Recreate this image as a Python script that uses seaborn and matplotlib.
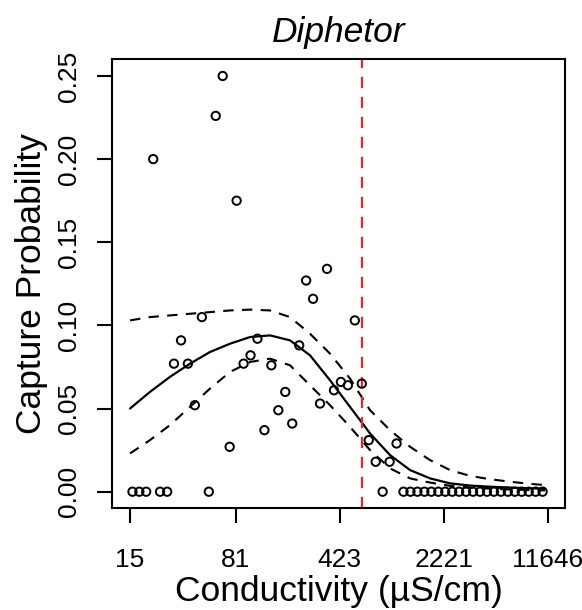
import pandas as pd
import seaborn as sns
import matplotlib
matplotlib.use("Agg")
import matplotlib.pyplot as plt
from matplotlib.ticker import FixedLocator, FixedFormatter, NullLocator

# ------------------------------------------------------------
# DONNEES
# ------------------------------------------------------------
conductivity = [15.6, 17.4, 19.4, 21.7, 24.2, 27.1, 30.2, 33.8, 37.7, 42.1,
                47.1, 52.6, 58.7, 65.6, 73.3, 81.9, 91.5, 102.2, 114.1, 127.5,
                142.4, 159.1, 177.7, 198.5, 221.8, 247.7, 276.7, 309.1, 345.3, 385.8,
                430.9, 481.4, 537.8, 600.8, 671.1, 749.7, 837.5, 935.6, 1045, 1167,
                1304, 1457, 1628, 1818, 2031, 2269, 2535, 2831, 3163, 3533,
                3947, 4409, 4925, 5502, 6146, 6866, 7670, 8568, 9571, 10692]
capture = [0, 0, 0, 0.200, 0, 0, 0.077, 0.091, 0.077, 0.052,
           0.105, 0, 0.226, 0.250, 0.027, 0.175, 0.077, 0.082, 0.092, 0.037,
           0.076, 0.049, 0.060, 0.041, 0.088, 0.127, 0.116, 0.053, 0.134, 0.061,
           0.066, 0.064, 0.103, 0.065, 0.031, 0.018, 0, 0.018, 0.029, 0,
           0, 0, 0, 0, 0, 0, 0, 0, 0, 0,
           0, 0, 0, 0, 0, 0, 0, 0, 0, 0]

curve_cond = [15.0, 20.6, 28.3, 39.0, 53.6, 73.7, 101.4, 139.4, 191.7, 263.5, 362.4,
              498.3, 685.4, 942.4, 1296, 1782, 2450, 3369, 4633, 6370, 8761, 11120]
fit = [0.050, 0.060, 0.069, 0.077, 0.084, 0.089, 0.093, 0.094, 0.091, 0.082, 0.067,
       0.051, 0.035, 0.022, 0.013, 0.0080, 0.0050, 0.0037, 0.0030, 0.0025, 0.0020, 0.0018]
upper = [0.103, 0.105, 0.106, 0.107, 0.108, 0.109, 0.1095, 0.109, 0.105, 0.095, 0.083,
         0.068, 0.049, 0.037, 0.027, 0.019, 0.013, 0.0095, 0.0075, 0.006, 0.0047, 0.004]
lower = [0.023, 0.031, 0.040, 0.051, 0.062, 0.072, 0.078, 0.080, 0.076, 0.064, 0.052,
         0.039, 0.025, 0.014, 0.008, 0.0055, 0.0035, 0.0025, 0.0018, 0.0013, 0.0010, 0.0008]

threshold = 605
xticks = [15, 81, 423, 2221, 11646]
yticks = [0.00, 0.05, 0.10, 0.15, 0.20, 0.25]

points = pd.DataFrame({"cond": conductivity, "p": capture})
curves = pd.DataFrame({"cond": curve_cond, "fit": fit, "upper": upper, "lower": lower})

# ------------------------------------------------------------
# GRAPHIQUE
# ------------------------------------------------------------
sns.set_style("ticks")
plt.rcParams["font.family"] = ["Liberation Sans", "DejaVu Sans"]
plt.rcParams["text.color"] = "black"
plt.rcParams["axes.labelcolor"] = "black"

fig = plt.figure(figsize=(5.82, 6.10), dpi=100)
ax = fig.add_axes([112 / 582, 1 - 508 / 610, 453 / 582, 449 / 610])

dash = (0, (5, 4))
sns.lineplot(data=curves, x="cond", y="fit", color="black", lw=1.6, ax=ax, estimator=None)
sns.lineplot(data=curves, x="cond", y="upper", color="black", lw=1.5, ax=ax,
             estimator=None, linestyle=dash)
sns.lineplot(data=curves, x="cond", y="lower", color="black", lw=1.5, ax=ax,
             estimator=None, linestyle=dash)
sns.scatterplot(data=points, x="cond", y="p", facecolor="none", edgecolor="black",
                s=36, linewidth=1.4, ax=ax, zorder=3)
ax.axvline(threshold, color="#E8262B", lw=1.6, linestyle=dash)

ax.set_xscale("log")
ax.set_xlim(11.26, 15271)
ax.set_ylim(-0.0098, 0.2602)
ax.xaxis.set_major_locator(FixedLocator(xticks))
ax.xaxis.set_major_formatter(FixedFormatter([str(t) for t in xticks]))
ax.xaxis.set_minor_locator(NullLocator())
ax.set_yticks(yticks)
ax.set_yticklabels([f"{t:.2f}" for t in yticks])

for s in ax.spines.values():
    s.set_visible(True)
    s.set_linewidth(1.5)
    s.set_color("black")
ax.tick_params(axis="both", direction="out", length=11, width=1.5, color="black",
               labelsize=19, labelcolor="black")
ax.tick_params(axis="x", pad=18)
ax.tick_params(axis="y", pad=11.5, labelrotation=90)
for lab in ax.get_yticklabels():
    lab.set_va("center")

ax.set_xlabel("Conductivity (µS/cm)", fontsize=25.5, va="center", color="black")
ax.set_ylabel("Capture Probability", fontsize=25.5, va="center", color="black")
ax.xaxis.set_label_coords(0.5, -0.186)
ax.yaxis.set_label_coords(-0.1777, 0.5)
ax.set_title("Diphetor", fontsize=25.5, fontstyle="italic", pad=12, color="black")

fig.savefig("out.png", dpi=100)
